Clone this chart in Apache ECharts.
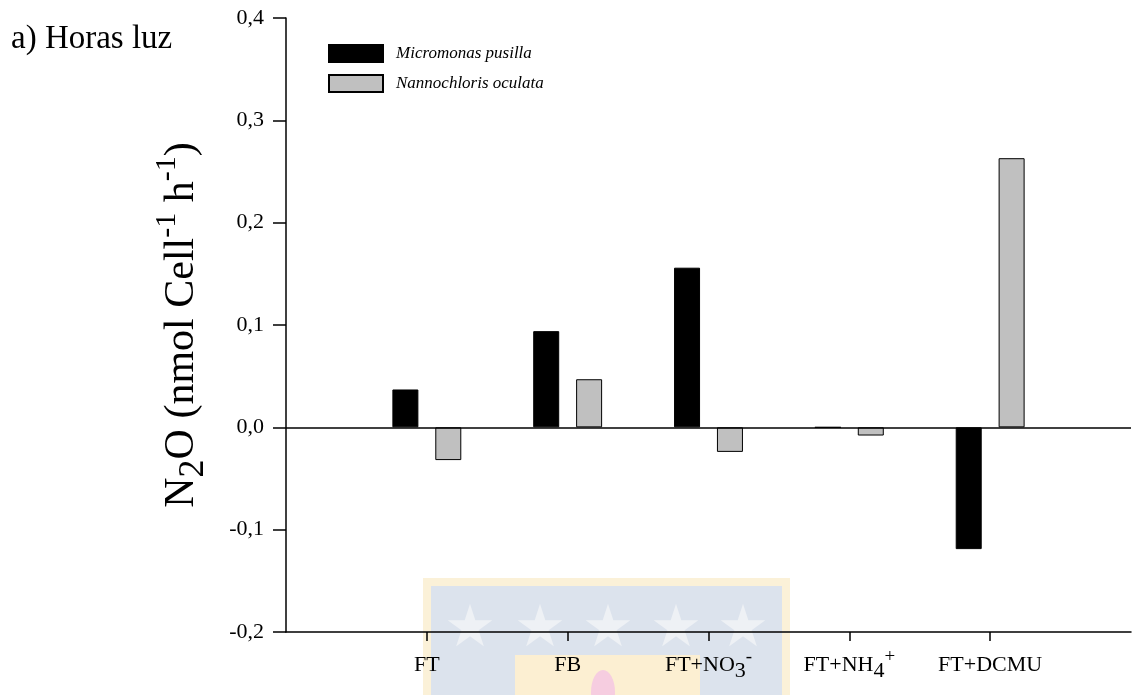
<!DOCTYPE html>
<html><head><meta charset="utf-8">
<script src="https://cdn.jsdelivr.net/npm/echarts@6/dist/echarts.min.js"></script>
<style>html,body{margin:0;padding:0;background:#fff}#c{width:1134px;height:695px}</style>
</head><body><div id="c"></div>
<script>
// ---- data ----
const categories = ['FT', 'FB', 'FT+NO3-', 'FT+NH4+', 'FT+DCMU'];
const micromonas = [0.037, 0.094, 0.156, 0, -0.119];
const nannochloris = [-0.032, 0.047, -0.024, -0.008, 0.263];
const seriesNames = ['Micromonas pusilla', 'Nannochloris oculata'];
const yMin = -0.2, yMax = 0.4, yStep = 0.1;

// ---- build ----
const xCats = [''].concat(categories, ['']);
const pad = arr => [null].concat(arr, [null]);
const FONT = 'Liberation Serif';

function richLabel(s) {
  return s.replace(/^(FT\+N[OH])(\d)([+-])$/, '{b|$1}{sub|$2}{sup|$3}')
          .replace(/^([^{]+)$/, '{b|$1}');
}

const chart = echarts.init(document.getElementById('c'));
const option = {
  animation: false,
  backgroundColor: '#fff',
  title: {
    text: 'a) Horas luz', left: 6, top: 18,
    textStyle: { fontFamily: FONT, fontSize: 33, fontWeight: 'normal', color: '#000' }
  },
  legend: {
    orient: 'vertical', left: 328, top: 44, padding: 0,
    itemWidth: 54, itemHeight: 17, itemGap: 11, icon: 'rect',
    textStyle: { fontFamily: FONT, fontSize: 17, fontStyle: 'italic', color: '#000', padding: [0, 0, 0, 8] },
    data: seriesNames
  },
  grid: { left: 286, top: 18, width: 854, height: 614, containLabel: false },
  xAxis: {
    type: 'category', data: xCats, boundaryGap: false,
    axisLine: { onZero: false, lineStyle: { color: '#000', width: 1.5 } },
    axisTick: { length: 9, lineStyle: { color: '#000', width: 1.5 }, interval: (i) => i >= 1 && i <= categories.length },
    axisLabel: {
      interval: 0, margin: 16, color: '#000',
      formatter: (v) => v ? richLabel(v) : '',
      rich: {
        b: { fontFamily: FONT, fontSize: 22, lineHeight: 34, color: '#000' },
        sub: { fontFamily: FONT, fontSize: 22, lineHeight: 22, verticalAlign: 'bottom', color: '#000' },
        sup: { fontFamily: FONT, fontSize: 19, lineHeight: 19, verticalAlign: 'top', color: '#000' }
      }
    },
    splitLine: { show: false }
  },
  yAxis: {
    type: 'value', min: yMin, max: yMax, interval: yStep,
    axisLine: { show: true, lineStyle: { color: '#000', width: 1.5 } },
    axisTick: { show: true, length: 13, lineStyle: { color: '#000', width: 1.5 } },
    axisLabel: {
      fontFamily: FONT, fontSize: 22, color: '#000', margin: 22,
      formatter: (v) => (Math.round(v * 10) / 10).toFixed(1).replace('.', ',')
    },
    splitLine: { show: false },
    name: '{b|N}{sub|2}{b|O (nmol Cell}{sup|-1}{b| h}{sup|-1}{b|)}',
    nameLocation: 'middle', nameRotate: 90, nameGap: 74,
    nameTextStyle: {
      rich: {
        b: { fontFamily: FONT, fontSize: 42, lineHeight: 60, color: '#000' },
        sub: { fontFamily: FONT, fontSize: 36, lineHeight: 36, verticalAlign: 'bottom', color: '#000' },
        sup: { fontFamily: FONT, fontSize: 30, lineHeight: 30, verticalAlign: 'top', color: '#000' }
      }
    }
  },
  graphic: [
    { type: 'rect', z: -10, shape: { x: 423, y: 578, width: 367, height: 117 }, style: { fill: '#fbf1d8' } },
    { type: 'rect', z: -9, shape: { x: 431, y: 586, width: 351, height: 109 }, style: { fill: '#dce3ed' } },
    { type: 'rect', z: -8, shape: { x: 515, y: 655, width: 185, height: 40 }, style: { fill: '#fcefd2' } },
    { type: 'text', z: -7, style: { text: '★', x: 470, y: 630, fontSize: 58, fill: '#eef1f5', align: 'center', verticalAlign: 'middle' } },
    { type: 'text', z: -7, style: { text: '★', x: 540, y: 630, fontSize: 58, fill: '#eef1f5', align: 'center', verticalAlign: 'middle' } },
    { type: 'text', z: -7, style: { text: '★', x: 608, y: 630, fontSize: 58, fill: '#eef1f5', align: 'center', verticalAlign: 'middle' } },
    { type: 'text', z: -7, style: { text: '★', x: 676, y: 630, fontSize: 58, fill: '#eef1f5', align: 'center', verticalAlign: 'middle' } },
    { type: 'text', z: -7, style: { text: '★', x: 743, y: 630, fontSize: 58, fill: '#eef1f5', align: 'center', verticalAlign: 'middle' } },
    { type: 'ellipse', z: -6, shape: { cx: 603, cy: 692, rx: 12, ry: 22 }, style: { fill: '#f6cde0' } }
  ],
  series: [
    {
      name: seriesNames[0], type: 'bar', data: pad(micromonas),
      barWidth: 26, barGap: '65%',
      itemStyle: { color: '#000', borderColor: '#000', borderWidth: 1 },
      markLine: {
        silent: true, symbol: ['none', 'none'], label: { show: false },
        lineStyle: { color: '#000', width: 1.5, type: 'solid' },
        data: [{ yAxis: 0 }]
      }
    },
    {
      name: seriesNames[1], type: 'bar', data: pad(nannochloris),
      barWidth: 26,
      itemStyle: { color: '#c0c0c0', borderColor: '#000', borderWidth: 1 }
    }
  ]
};
chart.setOption(option);
</script>
</body></html>
